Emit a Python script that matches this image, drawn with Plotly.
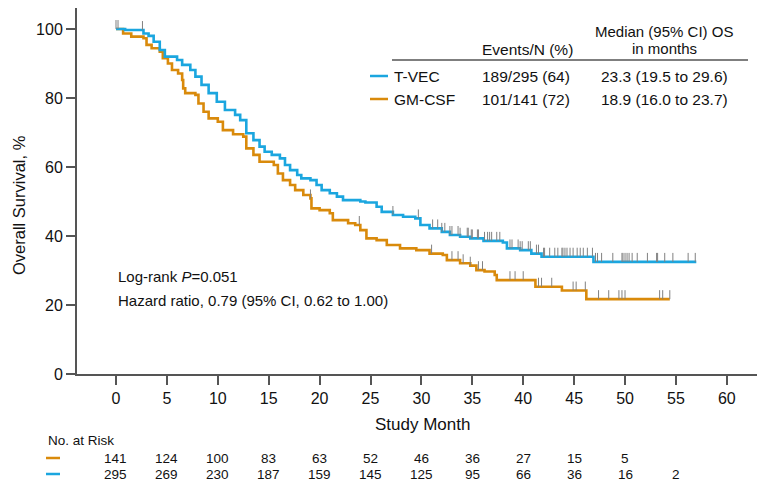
import numpy as np
import plotly.graph_objects as go

# Kaplan-Meier step points (month, survival %)
tvec_t = [0, 0.9, 2.7, 3.2, 3.7, 4.3, 4.8, 6.0, 6.5, 7.3, 7.8, 8.4, 9.1, 9.9, 10.7, 11.7, 12.2,
          12.8, 13.5, 14.1, 14.6, 15.3, 16.1, 16.6, 17.1, 17.8, 18.2, 19.1, 19.7, 20.2, 21.0,
          21.7, 22.3, 24.0, 24.5, 25.6, 26.1, 27.2, 28.2, 29.4, 29.9, 30.8, 32.0, 32.8, 33.8,
          34.8, 36.1, 38.0, 38.4, 39.7, 40.8, 41.8, 46.9, 57.0]
tvec_s = [100, 99.7, 98.7, 98.0, 96.3, 93.9, 92.0, 91.0, 89.6, 88.1, 86.2, 83.8, 81.4, 78.9, 76.5,
          75.1, 73.6, 69.8, 67.8, 65.9, 64.4, 63.5, 62.5, 60.6, 59.1, 57.7, 56.7, 56.2, 54.8,
          53.3, 52.4, 51.4, 50.4, 50.0, 49.7, 48.5, 47.0, 46.1, 45.6, 45.1, 43.2, 42.2, 41.2,
          40.3, 39.8, 39.3, 38.6, 38.1, 36.4, 35.9, 34.9, 34.0, 32.5, 32.5]

gm_t = [0, 0.7, 1.5, 2.7, 3.0, 3.5, 4.3, 4.6, 5.1, 5.5, 6.1, 6.5, 6.6, 6.8, 7.8, 8.1, 8.6, 9.1,
        10.0, 10.5, 11.5, 12.5, 12.8, 13.5, 14.1, 15.5, 15.9, 16.4, 17.1, 17.6, 18.4, 19.1,
        19.2, 20.0, 21.0, 21.3, 22.8, 23.5, 24.0, 24.6, 25.6, 26.6, 27.9, 29.5, 30.8, 32.1,
        32.5, 33.8, 34.8, 35.4, 36.2, 37.2, 37.4, 41.2, 43.8, 46.2, 54.4]
gm_s = [100, 98.7, 97.8, 97.3, 95.4, 94.4, 93.4, 91.5, 90.0, 88.1, 87.1, 85.2, 82.8, 81.4, 80.9,
        78.4, 76.0, 74.1, 73.1, 70.7, 69.5, 68.8, 65.4, 63.5, 61.5, 60.6, 58.1, 56.2, 54.8,
        53.3, 51.9, 50.9, 48.0, 47.5, 46.6, 44.6, 43.7, 43.2, 41.7, 39.3, 38.8, 37.4, 36.4,
        35.9, 34.9, 34.5, 33.0, 32.1, 31.4, 30.1, 29.7, 28.7, 27.2, 25.3, 24.2, 21.7, 21.7]

# censored observations (months)
tvec_cens = [0, 0.2, 2.6, 27.2, 29.7, 31.1, 31.6, 32.0, 32.3, 32.8, 33.0, 33.6, 33.8, 34.5, 34.6,
             34.9, 35.0, 35.5, 35.6, 36.2, 36.5, 36.7, 36.9, 37.4, 37.7, 38.7, 38.9, 39.5, 39.7,
             39.9, 40.5, 40.7, 41.3, 41.5, 42.0, 42.1, 42.6, 43.1, 43.4, 43.8, 43.9, 44.1, 44.3,
             44.6, 44.9, 45.3, 45.6, 45.9, 46.3, 46.8, 47.1, 47.3, 47.7, 48.8, 49.7, 49.8, 50.0,
             50.2, 50.4, 50.7, 51.2, 52.2, 53.1, 53.2, 53.9, 54.7, 56.2, 56.9]
gm_cens = [19.1, 23.9, 31.0, 33.0, 33.6, 34.1, 34.8, 35.6, 36.0, 38.7, 39.2, 40.0, 41.5, 41.8,
           42.8, 44.9, 45.2, 46.1, 47.4, 48.4, 49.4, 49.7, 50.0, 53.4, 53.7, 54.4]

risk_months = [0, 5, 10, 15, 20, 25, 30, 35, 40, 45, 50, 55]
gm_risk = [141, 124, 100, 83, 63, 52, 46, 36, 27, 15, 5]
tvec_risk = [295, 269, 230, 187, 159, 145, 125, 95, 66, 36, 16, 2]

BLUE = '#1BA6DF'
ORANGE = '#D98A0B'
GRAY = '#808080'
AX = '#555555'
FONT = 'Liberation Sans, Arial, sans-serif'

# the page puts the figure 8px in from the corner, so the figure is 8px smaller
OFF = 8
W, H = 765 - OFF, 481 - OFF
X0, X1 = 77, 765      # plot area, window pixels
Y0, Y1 = OFF, 374


def paper_x(p):
    return (p - X0) / (X1 - X0)


def paper_y(p):
    return (Y1 - p) / (Y1 - Y0)


def censor_segments(times, st, ss):
    st = np.array(st)
    xs, ys = [], []
    for c in times:
        lvl = ss[np.searchsorted(st, c, side='right') - 1]
        xs += [c, c, None]
        ys += [lvl, lvl + 2.6, None]
    return xs, ys


fig = go.Figure()
for st, ss, col in [(gm_t, gm_s, ORANGE), (tvec_t, tvec_s, BLUE)]:
    fig.add_trace(go.Scatter(x=st, y=ss, mode='lines', line=dict(color=col, width=2.6, shape='hv'),
                             hoverinfo='skip', showlegend=False))
for cens, st, ss in [(gm_cens, gm_t, gm_s), (tvec_cens, tvec_t, tvec_s)]:
    cx, cy = censor_segments(cens, st, ss)
    fig.add_trace(go.Scatter(x=cx, y=cy, mode='lines', line=dict(color=GRAY, width=1),
                             hoverinfo='skip', showlegend=False))

ann = []
shapes = []


def text(s, px, py, size=16, xanchor='left', **kw):
    ann.append(dict(text=s, x=paper_x(px), y=paper_y(py), xref='paper', yref='paper',
                    xanchor=xanchor, yanchor='middle', showarrow=False,
                    font=dict(size=size, color='#111111', family=FONT), **kw))


# legend table
text('Median (95% CI) OS', 664, 32, size=15, xanchor='center')
text('in months', 664, 48, size=15, xanchor='center')
text('Events/N (%)', 480, 49, size=15.5)
shapes.append(dict(type='line', xref='paper', yref='paper', x0=paper_x(392), x1=paper_x(748),
                   y0=paper_y(60), y1=paper_y(60), line=dict(color=AX, width=1.3)))
for row_y, name, ev, med, col in [(76, 'T-VEC', '189/295 (64)', '23.3 (19.5 to 29.6)', BLUE),
                                  (99, 'GM-CSF', '101/141 (72)', '18.9 (16.0 to 23.7)', ORANGE)]:
    shapes.append(dict(type='line', xref='paper', yref='paper', x0=paper_x(370), x1=paper_x(388),
                       y0=paper_y(row_y), y1=paper_y(row_y), line=dict(color=col, width=2.5)))
    text(name, 392, row_y, size=15.5)
    text(ev, 480, row_y, size=15.5)
    text(med, 664, row_y, size=15.5, xanchor='center')

text('Log-rank <i>P</i>=0.051', 116, 276, size=15)
text('Hazard ratio, 0.79 (95% CI, 0.62 to 1.00)', 116, 300, size=15)

# axis titles
text('Study Month', 422, 424, size=17, xanchor='center')
ann.append(dict(text='Overall Survival, %', x=paper_x(19), y=paper_y(205), xref='paper',
                yref='paper', xanchor='center', yanchor='middle', textangle=-90,
                showarrow=False, font=dict(size=16.5, color='#111111', family=FONT)))

# number at risk
text('No. at Risk', 46, 440, size=13.5)
for row_y, vals, col in [(458, gm_risk, ORANGE), (474, tvec_risk, BLUE)]:
    shapes.append(dict(type='line', xref='paper', yref='paper', x0=paper_x(46), x1=paper_x(60),
                       y0=paper_y(row_y), y1=paper_y(row_y), line=dict(color=col, width=2.5)))
    for m, v in zip(risk_months, vals):
        ann.append(dict(text=str(v), x=m, y=paper_y(row_y), xref='x', yref='paper',
                        xanchor='center', yanchor='middle', showarrow=False,
                        font=dict(size=13.5, color='#111111', family=FONT)))

fig.update_layout(
    width=W, height=H,
    margin=dict(l=X0 - OFF, r=0, t=0, b=H - (Y1 - OFF)),
    plot_bgcolor='white', paper_bgcolor='white',
    annotations=ann, shapes=shapes,
    xaxis=dict(range=[-3.83, 63.75], tickvals=list(range(0, 61, 5)), showgrid=False,
               zeroline=False, showline=True, linecolor=AX, linewidth=2, ticks='outside',
               ticklen=9, tickwidth=1.5, tickcolor=AX,
               tickfont=dict(size=16, color='#111111', family=FONT)),
    yaxis=dict(range=[0, (Y1 - Y0) / 3.45], tickvals=[0, 20, 40, 60, 80, 100], showgrid=False,
               zeroline=False, showline=True, linecolor=AX, linewidth=2, ticks='outside',
               ticklen=9, tickwidth=1.5, tickcolor=AX,
               tickfont=dict(size=16, color='#111111', family=FONT)),
)

fig.write_html("out.html")
